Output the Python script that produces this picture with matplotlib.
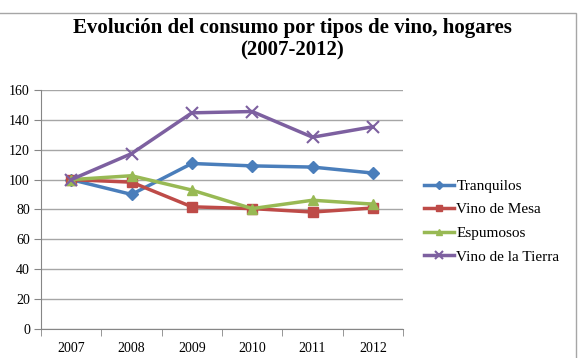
import matplotlib.pyplot as plt
from matplotlib.patches import Rectangle

years = ["2007", "2008", "2009", "2010", "2011", "2012"]
tranquilos = [100, 90.1, 110.8, 109.2, 108.4, 104.4]
vino_mesa = [100, 98.3, 81.8, 80.6, 78.3, 81.0]
espumosos = [100, 102.6, 93.0, 80.6, 86.2, 83.6]
vino_tierra = [100, 117.4, 144.7, 145.6, 128.4, 135.4]

plt.rcParams["font.family"] = ["Liberation Serif", "DejaVu Serif"]

fig = plt.figure(figsize=(5.78, 3.58), dpi=100)
ax = fig.add_axes([41 / 578, 1 - 329 / 358, (403 - 41) / 578, (329 - 90) / 358])

# chart border (cropped on left and bottom)
fig.patches.append(Rectangle((-0.01, -0.01), 1 - 2.5 / 578 + 0.01, 1 - 13 / 358 + 0.01,
                             transform=fig.transFigure, fill=False,
                             edgecolor="#a6a6a6", linewidth=1))

x = range(len(years))
ax.plot(x, tranquilos, color="#4a7ebb", lw=2.5, marker="D", ms=6, label="Tranquilos")
ax.plot(x, vino_mesa, color="#be4b48", lw=2.5, marker="s", ms=7, label="Vino de Mesa")
ax.plot(x, espumosos, color="#98b954", lw=2.5, marker="^", ms=7, label="Espumosos")
ax.plot(x, vino_tierra, color="#7d60a0", lw=2.5, marker="x", ms=8, mew=1.5,
        label="Vino de la Tierra")

ax.set_xlim(-0.5, 5.5)
ax.set_ylim(0, 160)
ax.set_yticks(range(0, 161, 20))
ax.set_xticks(list(x))
ax.set_xticklabels(years)
ax.set_xticks([i - 0.5 for i in range(7)], minor=True)
ax.tick_params(axis="x", which="major", length=0, labelsize=10, pad=9)
ax.tick_params(axis="x", which="minor", length=5, color="#868686")
ax.tick_params(axis="y", length=5, color="#868686", labelsize=10, pad=3)
ax.grid(axis="y", color="#a6a6a6", lw=1)
ax.set_axisbelow(True)
for s in ["top", "right"]:
    ax.spines[s].set_visible(False)
for s in ["left", "bottom"]:
    ax.spines[s].set_color("#868686")

fig.text(292 / 578, 1 - 28 / 358, "Evolución del consumo por tipos de vino, hogares",
         ha="center", va="center", fontsize=15, fontweight="bold")
fig.text(292 / 578, 1 - 50 / 358, "(2007-2012)",
         ha="center", va="center", fontsize=15, fontweight="bold")

ax.legend(loc="center left", bbox_to_anchor=(1.04, 0.45), frameon=False, fontsize=11,
          handlelength=2.0, handletextpad=0.15, labelspacing=0.65, borderaxespad=0,
          markerscale=0.7)

fig.savefig("out.png", dpi=100)
